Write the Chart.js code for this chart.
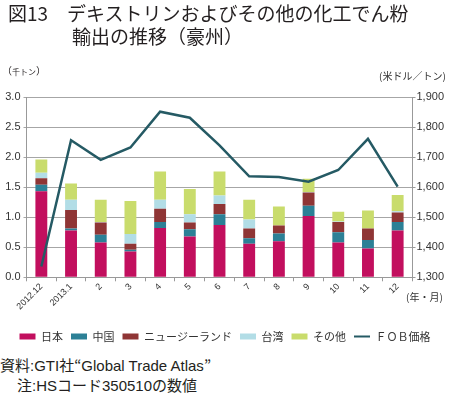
<!DOCTYPE html>
<html>
<head>
<meta charset="utf-8">
<script src="https://cdn.jsdelivr.net/npm/chart.js@4.4.0/dist/chart.umd.min.js"></script>
<style>
  html, body { margin: 0; padding: 0; background: #fff; }
  body { width: 450px; height: 396px; position: relative; overflow: hidden; color: #231f20;
         font-family: "Liberation Sans", "Noto Sans CJK JP", sans-serif; }
  #wrap { position: absolute; left: 0; top: 0; width: 450px; height: 352px; }
  .txt { position: absolute; white-space: nowrap; }
  .cjk { font-family: "Noto Sans CJK JP", sans-serif; }
</style>
</head>
<body>
<div id="wrap"><canvas id="exportChart" width="450" height="352"></canvas></div>

<div class="txt cjk" style="left:8px;top:1px;font-size:19px;line-height:23px;">図13　デキストリンおよびその他の化工でん粉<br><span style="padding-left:64px;">輸出の推移（豪州）</span></div>
<div class="txt cjk" style="left:2px;top:63px;font-size:10px;line-height:16px;">（<span style="font-size:8px;">千トン</span>）</div>
<div class="txt cjk" style="left:379px;top:68px;font-size:10px;line-height:16px;color:#333;">(米ドル／トン)</div>
<div class="txt cjk" style="left:406px;top:289px;font-size:10px;line-height:16px;color:#333;">(年・月)</div>
<div class="txt" style="left:0;top:355px;font-size:15px;line-height:20px;">資料:GTI社<span class="cjk">“</span>Global Trade Atlas<span class="cjk">”</span><br><span style="padding-left:17px;">注:HSコード350510の数値</span></div>

<script>
// categories (year.month)
const months = ["2012.12", "2013.1", "2", "3", "4", "5", "6", "7", "8", "9", "10", "11", "12"];

// exports by destination, thousand tonnes
const japan  = [1.43, 0.78, 0.58, 0.43, 0.82, 0.68, 0.87, 0.56, 0.60, 1.02, 0.58, 0.48, 0.78];
const china  = [0.11, 0.03, 0.13, 0.03, 0.10, 0.12, 0.18, 0.09, 0.13, 0.17, 0.17, 0.14, 0.14];
const nz     = [0.11, 0.31, 0.20, 0.10, 0.22, 0.11, 0.17, 0.16, 0.13, 0.22, 0.17, 0.19, 0.16];
const taiwan = [0.09, 0.17, 0.01, 0.16, 0.15, 0.14, 0.14, 0.15, 0.00, 0.01, 0.01, 0.00, 0.02];
const others = [0.22, 0.27, 0.37, 0.55, 0.47, 0.42, 0.40, 0.33, 0.32, 0.22, 0.16, 0.30, 0.27];

// FOB price, USD per tonne
const fobPrice = [1336, 1756, 1691, 1732, 1851, 1831, 1739, 1636, 1634, 1618, 1657, 1761, 1602];

const leftTicks = { min: 0, max: 3, step: 0.5 };
const rightTicks = { min: 1300, max: 1900, step: 100 };

const textColor = "#333333";
const gridColor = "#a6a6a6";

function barSet(label, data, color) {
  return {
    type: "bar",
    label,
    data,
    backgroundColor: color,
    borderWidth: 0,
    barPercentage: 0.4,
    categoryPercentage: 1,
    yAxisID: "y",
    stack: "exports",
  };
}

new Chart(document.getElementById("exportChart").getContext("2d"), {
  data: {
    labels: months,
    datasets: [
      barSet("日本", japan, "#c20f5e"),
      barSet("中国", china, "#2c8096"),
      barSet("ニュージーランド", nz, "#8f3535"),
      barSet("台湾", taiwan, "#b2dde6"),
      barSet("その他", others, "#c9dc6c"),
      {
        type: "line",
        label: "ＦＯＢ価格",
        data: fobPrice,
        borderColor: "#255a64",
        backgroundColor: "#255a64",
        borderWidth: 2.5,
        pointRadius: 0,
        tension: 0,
        yAxisID: "y1",
        order: -1,
      },
    ],
  },
  options: {
    responsive: false,
    animation: false,
    devicePixelRatio: 1,
    layout: { padding: { top: 97, left: 0, right: 0, bottom: 0 } },
    scales: {
      x: {
        stacked: true,
        grid: { drawOnChartArea: false, drawTicks: true, tickLength: 4, color: "#999999", offset: true },
        border: { display: true, color: "#999999" },
        ticks: {
          color: textColor,
          font: { family: "Liberation Sans", size: 9 },
          minRotation: 45,
          maxRotation: 45,
          padding: 0,
          autoSkip: false,
        },
        afterFit: (scale) => { scale.height = 45.7; },
      },
      y: {
        position: "left",
        stacked: true,
        min: leftTicks.min,
        max: leftTicks.max,
        grid: { color: gridColor, tickLength: 3 },
        border: { display: true, color: "#999999" },
        ticks: {
          stepSize: leftTicks.step,
          color: textColor,
          padding: 3,
          font: { family: "Liberation Sans", size: 11 },
          callback: (v) => v.toFixed(1),
        },
        afterFit: (scale) => { scale.width = 26.5; },
      },
      y1: {
        position: "right",
        min: rightTicks.min,
        max: rightTicks.max,
        grid: { drawOnChartArea: false, tickLength: 3, color: "#999999" },
        border: { display: true, color: "#999999" },
        ticks: {
          stepSize: rightTicks.step,
          color: textColor,
          padding: 1,
          font: { family: "Liberation Sans", size: 11 },
          callback: (v) => v.toLocaleString("en-US"),
        },
        afterFit: (scale) => { scale.width = 37.5; },
      },
    },
    plugins: {
      tooltip: { enabled: false },
      legend: {
        position: "bottom",
        labels: {
          usePointStyle: true,
          pointStyleWidth: 16,
          boxHeight: 6,
          padding: 8,
          color: textColor,
          font: { family: "Noto Sans CJK JP", size: 11 },
          generateLabels: (chart) =>
            chart.data.datasets.map((ds, i) => ({
              text: ds.label,
              fillStyle: ds.type === "line" ? ds.borderColor : ds.backgroundColor,
              strokeStyle: ds.type === "line" ? ds.borderColor : ds.backgroundColor,
              lineWidth: ds.type === "line" ? 2 : 0,
              pointStyle: ds.type === "line" ? "line" : "rect",
              fontColor: textColor,
              datasetIndex: i,
              hidden: false,
            })),
        },
      },
    },
  },
});
</script>
</body>
</html>
